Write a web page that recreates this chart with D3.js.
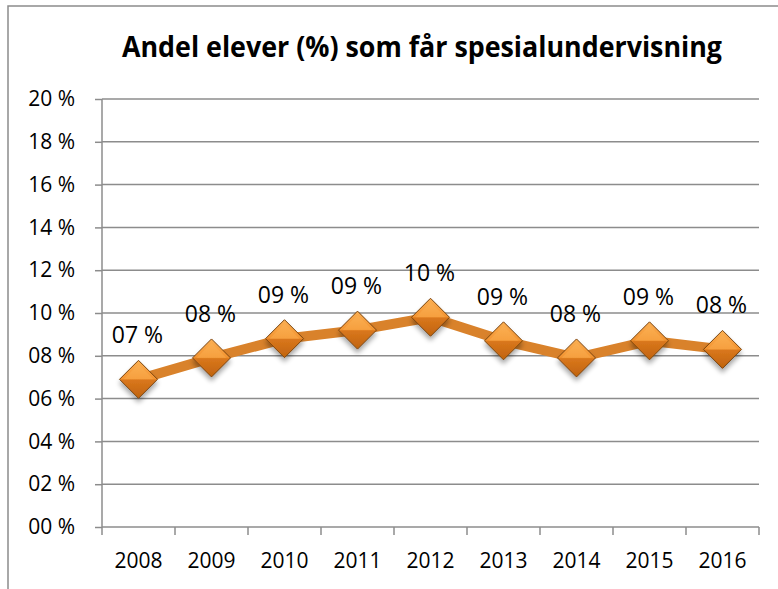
<!DOCTYPE html>
<html>
<head>
<meta charset="utf-8">
<script src="https://cdn.jsdelivr.net/npm/d3@7"></script>
<style>
  body { margin: 0; background: #fff; }
  text { font-family: "Open Sans", Lato, sans-serif; fill: #000; }
</style>
</head>
<body>
<div id="chart"></div>
<script>
const years  = ['2008', '2009', '2010', '2011', '2012', '2013', '2014', '2015', '2016'];
const shares = [6.9, 7.9, 8.8, 9.2, 9.8, 8.7, 7.9, 8.7, 8.3];
const yTicks = [0, 2, 4, 6, 8, 10, 12, 14, 16, 18, 20];
const title  = 'Andel elever  (%) som får spesialundervisning';

const width = 778, height = 589;
const margin = { left: 102, right: 19, top: 99, bottom: 62 };

const svg = d3.select('#chart').append('svg')
    .attr('width', width)
    .attr('height', height);

// Gradients + shadow for the diamonds
const defs = svg.append('defs');
const grad = defs.append('linearGradient')
    .attr('id', 'diamondFill')
    .attr('x1', 0).attr('y1', 0).attr('x2', 0).attr('y2', 1);
[['0%', '#fbb054'], ['48%', '#f39431'], ['52%', '#d9771c'], ['100%', '#c0630e']]
  .forEach(([o, c]) => grad.append('stop').attr('offset', o).attr('stop-color', c));

const shadow = defs.append('filter').attr('id', 'shadow')
    .attr('x', '-50%').attr('y', '-50%').attr('width', '200%').attr('height', '200%');
shadow.append('feGaussianBlur').attr('in', 'SourceAlpha').attr('stdDeviation', 2.5);
shadow.append('feOffset').attr('dx', 0).attr('dy', 4).attr('result', 'b');
shadow.append('feComponentTransfer').append('feFuncA').attr('type', 'linear').attr('slope', 0.35);
const merge = shadow.append('feMerge');
merge.append('feMergeNode');
merge.append('feMergeNode').attr('in', 'SourceGraphic');

// Chart frame
svg.append('path')
    .attr('d', `M8,${height} V6 H${width}`)
    .attr('fill', 'none')
    .attr('stroke', '#8c8c8c')
    .attr('stroke-width', 1.5);

// Scales
const x = d3.scaleBand()
    .domain(years)
    .range([margin.left, width - margin.right]);

const y = d3.scaleLinear()
    .domain([0, 20])
    .range([height - margin.bottom, margin.top]);

const fmt = v => d3.format('02d')(Math.round(v)) + ' %';

// Grid
svg.append('g')
  .selectAll('line')
  .data(yTicks.filter(d => d > 0))
  .join('line')
    .attr('x1', margin.left).attr('x2', width - margin.right)
    .attr('y1', d => y(d)).attr('y2', d => y(d))
    .attr('stroke', '#8c8c8c')
    .attr('stroke-width', 1.5);

// Y axis
const yAxis = svg.append('g')
    .attr('transform', `translate(${margin.left},0)`)
    .call(d3.axisLeft(y).tickValues(yTicks).tickFormat(fmt).tickSize(7).tickPadding(20));
yAxis.selectAll('line, path').attr('stroke', '#8c8c8c').attr('stroke-width', 1.5);
yAxis.select('.domain').attr('d', `M0,${y(20)}V${y(0)}`);
yAxis.selectAll('text').style('font-size', '21px').style('font-family', '"Open Sans", sans-serif');

// X axis, ticks on band edges
const xAxis = svg.append('g')
    .attr('transform', `translate(0,${y(0)})`);
xAxis.append('line')
    .attr('x1', margin.left).attr('x2', width - margin.right)
    .attr('stroke', '#8c8c8c').attr('stroke-width', 1.5);
xAxis.selectAll('.tick')
  .data(years.concat(['end']))
  .join('line')
    .attr('x1', d => d === 'end' ? x.range()[1] : x(d))
    .attr('x2', d => d === 'end' ? x.range()[1] : x(d))
    .attr('y1', 0).attr('y2', 8)
    .attr('stroke', '#8c8c8c').attr('stroke-width', 1.5);
xAxis.selectAll('text')
  .data(years)
  .join('text')
    .attr('x', d => x(d) + x.bandwidth() / 2)
    .attr('y', 41)
    .attr('text-anchor', 'middle')
    .style('font-size', '21px')
    .text(d => d);

// Line
const cx = d => x(d) + x.bandwidth() / 2;
svg.append('path')
    .datum(shares)
    .attr('fill', 'none')
    .attr('stroke', '#d9822b')
    .attr('stroke-width', 10)
    .attr('stroke-linejoin', 'round')
    .attr('d', d3.line().x((d, i) => cx(years[i])).y(d => y(d)));

// Diamonds
const r = 19;
const pts = svg.append('g')
  .selectAll('g')
  .data(shares)
  .join('g')
    .attr('transform', (d, i) => `translate(${cx(years[i])},${y(d)})`);
pts.append('path')
    .attr('d', `M0,${-r}L${r},0L0,${r}L${-r},0Z`)
    .attr('fill', 'url(#diamondFill)')
    .attr('stroke', '#7a4410')
    .attr('stroke-width', 1)
    .attr('filter', 'url(#shadow)');
pts.append('path')
    .attr('d', `M0,${-r + 4}L${r - 4},0L${-r + 4},0Z`)
    .attr('fill', '#fcb65c')
    .attr('opacity', 0.35);

// Data labels
svg.append('g')
  .selectAll('text')
  .data(shares)
  .join('text')
    .attr('x', (d, i) => cx(years[i]) - 1)
    .attr('y', d => y(d) - 36)
    .attr('text-anchor', 'middle')
    .style('font-size', '23px')
    .text(d => fmt(d));

// Title
svg.append('text')
    .attr('x', 422)
    .attr('y', 57)
    .attr('text-anchor', 'middle')
    .attr('textLength', 600)
    .attr('lengthAdjust', 'spacingAndGlyphs')
    .style('font-size', '28px')
    .style('font-weight', 'bold')
    .text(title);
</script>
</body>
</html>
